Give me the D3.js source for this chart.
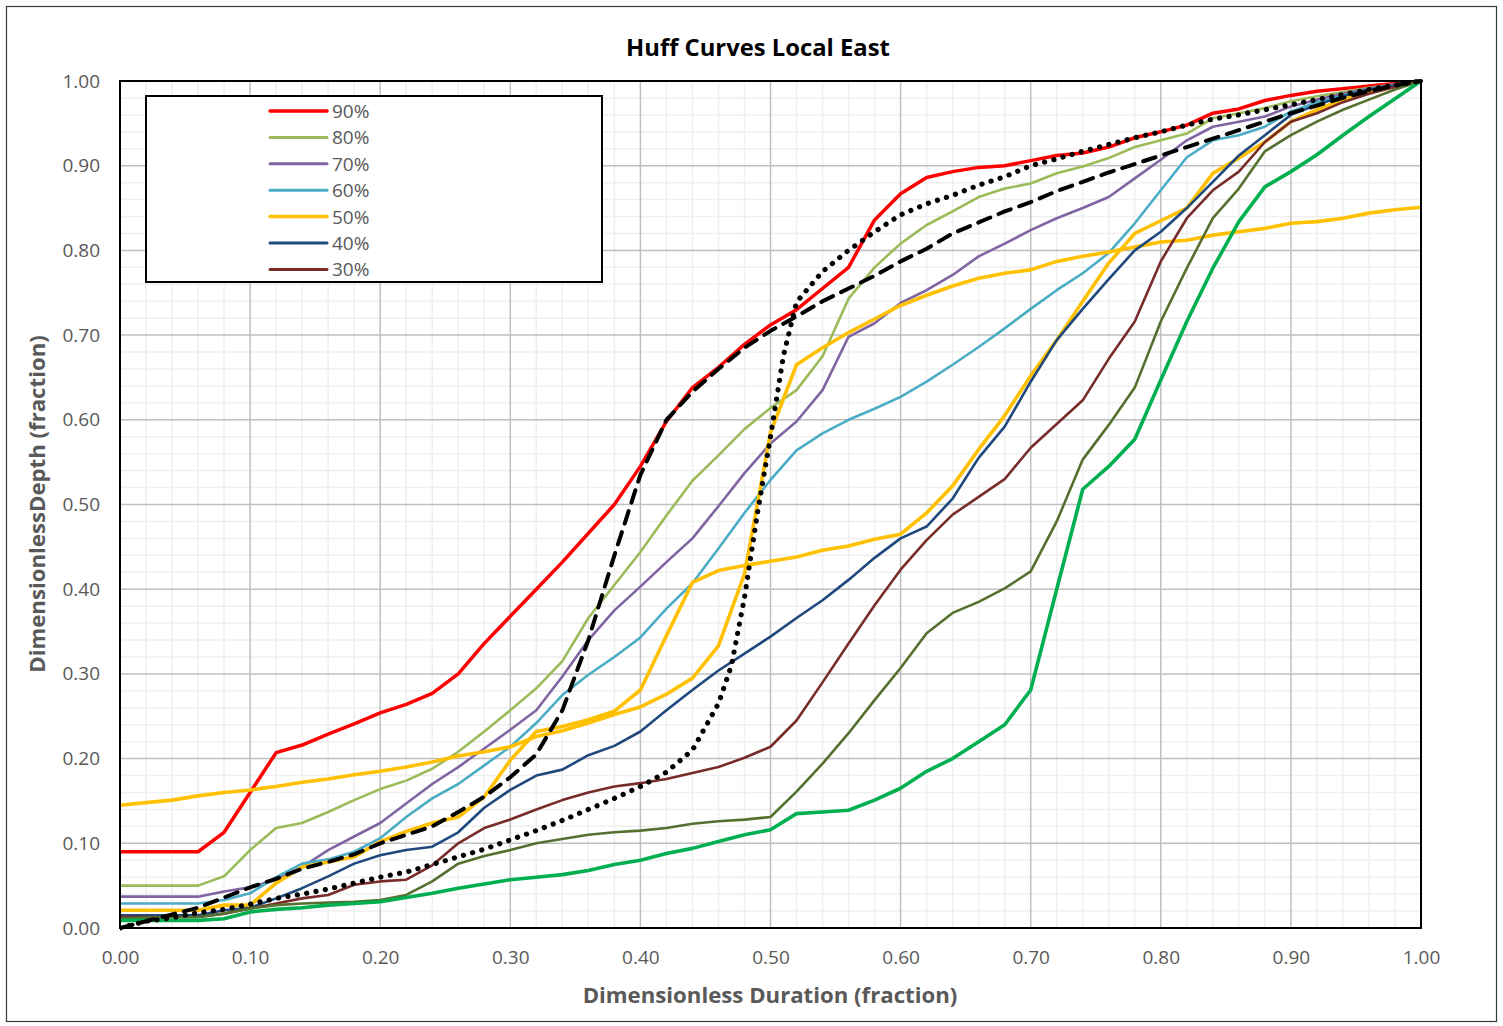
<!DOCTYPE html>
<html><head><meta charset="utf-8">
<script src="https://cdn.jsdelivr.net/npm/d3@7"></script>
<style>body{margin:0;background:#fff;}svg{display:block;}</style>
</head><body><svg id="c" width="1503" height="1026"></svg>
<script>
// ---------- data ----------
const durations = [0.00,0.02,0.04,0.06,0.08,0.10,0.12,0.14,0.16,0.18,0.20,0.22,0.24,0.26,0.28,0.30,0.32,0.34,0.36,0.38,0.40,0.42,0.44,0.46,0.48,0.50,0.52,0.54,0.56,0.58,0.60,0.62,0.64,0.66,0.68,0.70,0.72,0.74,0.76,0.78,0.80,0.82,0.84,0.86,0.88,0.90,0.92,0.94,0.96,0.98,1.00];
const p90 = [0.090,0.090,0.090,0.090,0.113,0.160,0.207,0.216,0.229,0.241,0.254,0.264,0.277,0.300,0.336,0.368,0.400,0.432,0.466,0.500,0.545,0.598,0.638,0.662,0.689,0.712,0.730,0.755,0.780,0.836,0.867,0.886,0.893,0.898,0.900,0.906,0.912,0.915,0.922,0.933,0.940,0.948,0.962,0.967,0.977,0.983,0.988,0.991,0.994,0.997,1.000];
const p80 = [0.050,0.050,0.050,0.050,0.061,0.092,0.118,0.124,0.137,0.151,0.164,0.174,0.188,0.208,0.232,0.257,0.283,0.315,0.366,0.405,0.444,0.487,0.528,0.558,0.589,0.614,0.635,0.675,0.743,0.780,0.808,0.830,0.846,0.863,0.873,0.879,0.891,0.899,0.909,0.922,0.930,0.938,0.956,0.962,0.968,0.976,0.982,0.987,0.992,0.996,1.000];
const p70 = [0.037,0.037,0.037,0.037,0.043,0.048,0.057,0.072,0.092,0.108,0.124,0.147,0.170,0.190,0.212,0.234,0.257,0.297,0.340,0.375,0.403,0.432,0.460,0.498,0.537,0.572,0.598,0.635,0.698,0.714,0.738,0.753,0.771,0.793,0.808,0.824,0.838,0.850,0.863,0.885,0.907,0.930,0.946,0.952,0.958,0.970,0.978,0.985,0.991,0.996,1.000];
const p60 = [0.029,0.029,0.029,0.029,0.033,0.041,0.060,0.076,0.081,0.090,0.106,0.131,0.153,0.170,0.192,0.214,0.242,0.275,0.299,0.320,0.343,0.377,0.407,0.448,0.490,0.529,0.564,0.584,0.600,0.613,0.627,0.645,0.665,0.686,0.708,0.731,0.753,0.773,0.797,0.832,0.871,0.910,0.930,0.936,0.946,0.964,0.975,0.983,0.990,0.995,1.000];
const p50 = [0.021,0.021,0.021,0.021,0.027,0.027,0.053,0.072,0.078,0.084,0.102,0.114,0.124,0.131,0.155,0.198,0.232,0.238,0.246,0.256,0.281,0.345,0.408,0.422,0.428,0.433,0.438,0.446,0.451,0.459,0.465,0.490,0.522,0.565,0.605,0.652,0.694,0.740,0.785,0.820,0.835,0.850,0.891,0.909,0.928,0.952,0.966,0.978,0.987,0.994,1.000];
const p50b = [0.145,0.148,0.151,0.156,0.160,0.163,0.167,0.172,0.176,0.181,0.185,0.190,0.196,0.203,0.208,0.214,0.226,0.233,0.242,0.252,0.261,0.276,0.295,0.333,0.418,0.585,0.665,0.685,0.703,0.719,0.735,0.747,0.758,0.767,0.773,0.777,0.787,0.793,0.798,0.804,0.810,0.812,0.818,0.822,0.826,0.832,0.834,0.838,0.844,0.848,0.851];
const p40 = [0.015,0.015,0.015,0.015,0.021,0.024,0.035,0.047,0.061,0.076,0.086,0.092,0.096,0.113,0.142,0.163,0.180,0.187,0.204,0.215,0.232,0.257,0.281,0.304,0.324,0.344,0.366,0.387,0.411,0.437,0.460,0.474,0.507,0.555,0.592,0.645,0.694,0.731,0.766,0.800,0.822,0.850,0.881,0.912,0.936,0.960,0.972,0.982,0.990,0.995,1.000];
const p30 = [0.013,0.013,0.013,0.013,0.017,0.023,0.029,0.035,0.039,0.051,0.055,0.057,0.074,0.100,0.118,0.128,0.140,0.151,0.160,0.167,0.171,0.176,0.183,0.190,0.201,0.214,0.245,0.290,0.336,0.381,0.423,0.458,0.488,0.509,0.530,0.567,0.595,0.623,0.672,0.716,0.787,0.838,0.871,0.893,0.928,0.952,0.962,0.975,0.985,0.993,1.000];
const p20 = [0.011,0.012,0.013,0.013,0.017,0.023,0.027,0.029,0.030,0.031,0.033,0.039,0.055,0.076,0.085,0.092,0.100,0.105,0.110,0.113,0.115,0.118,0.123,0.126,0.128,0.131,0.161,0.194,0.230,0.269,0.307,0.348,0.372,0.385,0.401,0.421,0.480,0.553,0.594,0.638,0.716,0.779,0.838,0.873,0.917,0.936,0.952,0.966,0.978,0.990,1.000];
const p10 = [0.009,0.009,0.009,0.009,0.011,0.019,0.022,0.024,0.027,0.029,0.031,0.036,0.041,0.047,0.052,0.057,0.060,0.063,0.068,0.075,0.080,0.088,0.094,0.102,0.110,0.116,0.135,0.137,0.139,0.151,0.165,0.185,0.200,0.220,0.240,0.281,0.400,0.518,0.545,0.577,0.647,0.716,0.779,0.834,0.875,0.893,0.913,0.936,0.958,0.979,1.000];
const dashedCurve = [0.000,0.008,0.016,0.024,0.036,0.048,0.058,0.070,0.078,0.087,0.100,0.110,0.120,0.137,0.155,0.178,0.205,0.257,0.340,0.440,0.535,0.600,0.633,0.660,0.685,0.705,0.722,0.740,0.755,0.770,0.787,0.802,0.820,0.833,0.846,0.857,0.870,0.881,0.892,0.902,0.912,0.922,0.932,0.942,0.952,0.962,0.971,0.980,0.988,0.995,1.000];
const dottedDur = [0.00,0.02,0.04,0.06,0.08,0.10,0.12,0.14,0.16,0.18,0.20,0.22,0.24,0.26,0.28,0.30,0.32,0.34,0.36,0.38,0.40,0.42,0.44,0.46,0.47,0.48,0.49,0.50,0.51,0.52,0.54,0.56,0.58,0.60,0.62,0.64,0.66,0.68,0.70,0.72,0.74,0.76,0.78,0.80,0.82,0.84,0.86,0.88,0.90,0.92,0.94,0.96,0.98,1.00];
const dottedCurve = [0.000,0.008,0.012,0.018,0.022,0.028,0.035,0.040,0.046,0.053,0.060,0.066,0.075,0.084,0.093,0.104,0.115,0.127,0.140,0.153,0.167,0.184,0.210,0.265,0.310,0.390,0.490,0.580,0.676,0.739,0.775,0.800,0.822,0.842,0.855,0.865,0.877,0.887,0.900,0.908,0.917,0.925,0.933,0.940,0.948,0.955,0.960,0.966,0.972,0.978,0.984,0.990,0.995,1.000];
const xTickLabels = [0,0.1,0.2,0.3,0.4,0.5,0.6,0.7,0.8,0.9,1.0];
const yTickLabels = [0,0.1,0.2,0.3,0.4,0.5,0.6,0.7,0.8,0.9,1.0];
const legendNames = ["90%","80%","70%","60%","50%","40%","30%"];
const title = "Huff Curves Local East";
const xTitle = "Dimensionless Duration (fraction)";
const yTitle = "DimensionlessDepth (fraction)";

// ---------- styles ----------
const series = [
  {x: durations, y: p90,  color:"#FF0000", w:3.5},
  {x: durations, y: p80,  color:"#9BBB59", w:2.6},
  {x: durations, y: p70,  color:"#8064A2", w:2.6},
  {x: durations, y: p60,  color:"#4BACC6", w:2.6},
  {x: durations, y: p50,  color:"#FFC000", w:3.6},
  {x: durations, y: p50b, color:"#FFC000", w:3.6},
  {x: durations, y: p40,  color:"#1F497D", w:2.6},
  {x: durations, y: p30,  color:"#772C2A", w:2.6},
  {x: durations, y: p20,  color:"#55702E", w:2.6},
  {x: durations, y: p10,  color:"#00B050", w:3.6},
  {x: durations, y: dashedCurve, color:"#000", w:4, dash:"13,9", cap:"round"},
  {x: dottedDur, y: dottedCurve, color:"#000", w:5.2, dash:"0.1,9.4", cap:"round"}
];
const legendColors = ["#FF0000","#9BBB59","#8064A2","#4BACC6","#FFC000","#1F497D","#772C2A"];

const svg = d3.select("#c");
const L=120, R=1421, T=81, B=928;
const x = d3.scaleLinear().domain([0,1]).range([L,R]);
const y = d3.scaleLinear().domain([0,1]).range([B,T]);
const textGray = "#595959";
const FONT = "'Open Sans', Lato, sans-serif";

svg.append("rect").attr("x",6.5).attr("y",6.5).attr("width",1490).attr("height",1015)
  .attr("fill","#fff").attr("stroke","#3a3a3a").attr("stroke-width",1.2);

// grid
const minor = d3.range(0, 1.0001, 0.02).filter(v => Math.abs(v*10 - Math.round(v*10)) > 1e-6);
const g = svg.append("g");
g.selectAll(".mx").data(minor).join("line").attr("x1",d=>x(d)).attr("x2",d=>x(d)).attr("y1",T).attr("y2",B)
  .attr("stroke","#EFEFEF").attr("stroke-width",1.5);
g.selectAll(".my").data(minor).join("line").attr("y1",d=>y(d)).attr("y2",d=>y(d)).attr("x1",L).attr("x2",R)
  .attr("stroke","#EFEFEF").attr("stroke-width",1.5);
g.selectAll(".Mx").data(xTickLabels).join("line").attr("x1",d=>x(d)).attr("x2",d=>x(d)).attr("y1",T).attr("y2",B)
  .attr("stroke","#BFBFBF").attr("stroke-width",1.5);
g.selectAll(".My").data(yTickLabels).join("line").attr("y1",d=>y(d)).attr("y2",d=>y(d)).attr("x1",L).attr("x2",R)
  .attr("stroke","#BFBFBF").attr("stroke-width",1.5);

// axes (labels only)
const xAxis = svg.append("g").attr("transform",`translate(0,${B})`)
  .call(d3.axisBottom(x).tickValues(xTickLabels).tickFormat(d3.format(".2f")).tickSize(0).tickPadding(23));
const yAxis = svg.append("g").attr("transform",`translate(${L},0)`)
  .call(d3.axisLeft(y).tickValues(yTickLabels).tickFormat(d3.format(".2f")).tickSize(0).tickPadding(20));
[xAxis,yAxis].forEach(a=>{
  a.select(".domain").remove();
  a.selectAll("text").attr("fill",textGray).style("font-family",FONT).style("font-size","19px");
});

// lines
svg.append("clipPath").attr("id","pc").append("rect").attr("x",L).attr("y",T-3).attr("width",R-L+3).attr("height",B-T+6);
const lg = svg.append("g").attr("clip-path","url(#pc)");
series.forEach(s=>{
  const pts = s.x.map((d,i)=>[d, s.y[i]]);
  const line = d3.line().x(d=>x(d[0])).y(d=>y(d[1]));
  lg.append("path").attr("d", line(pts)).attr("fill","none")
    .attr("stroke", s.color).attr("stroke-width", s.w)
    .attr("stroke-linejoin","round")
    .attr("stroke-linecap", s.cap || "butt")
    .attr("stroke-dasharray", s.dash || null);
});

// plot border
svg.append("rect").attr("x",L).attr("y",T).attr("width",R-L).attr("height",B-T)
  .attr("fill","none").attr("stroke","#000").attr("stroke-width",2);

// legend
const leg = svg.append("g");
leg.append("rect").attr("x",146).attr("y",96).attr("width",456).attr("height",186)
  .attr("fill","#fff").attr("stroke","#000").attr("stroke-width",2);
legendNames.forEach((n,i)=>{
  const yy = 111 + i*26.4;
  leg.append("line").attr("x1",270).attr("x2",327).attr("y1",yy).attr("y2",yy)
    .attr("stroke",legendColors[i]).attr("stroke-width", i===0||i===4 ? 3.5 : 3).attr("stroke-linecap","round");
  leg.append("text").attr("x",332).attr("y",yy+7).text(n)
    .attr("fill",textGray).style("font-family",FONT).style("font-size","19px");
});

// titles
svg.append("text").attr("x",758).attr("y",56).attr("text-anchor","middle").text(title)
  .style("font-family",FONT).style("font-weight","bold").style("font-size","23.8px").attr("fill","#000");
svg.append("text").attr("x",770).attr("y",1003).attr("text-anchor","middle").text(xTitle)
  .style("font-family",FONT).style("font-weight","bold").style("font-size","22.2px").attr("fill",textGray);
svg.append("text").attr("transform","translate(45,504) rotate(-90)").attr("text-anchor","middle").text(yTitle)
  .style("font-family",FONT).style("font-weight","bold").style("font-size","22.2px").attr("fill",textGray);
</script></body></html>
